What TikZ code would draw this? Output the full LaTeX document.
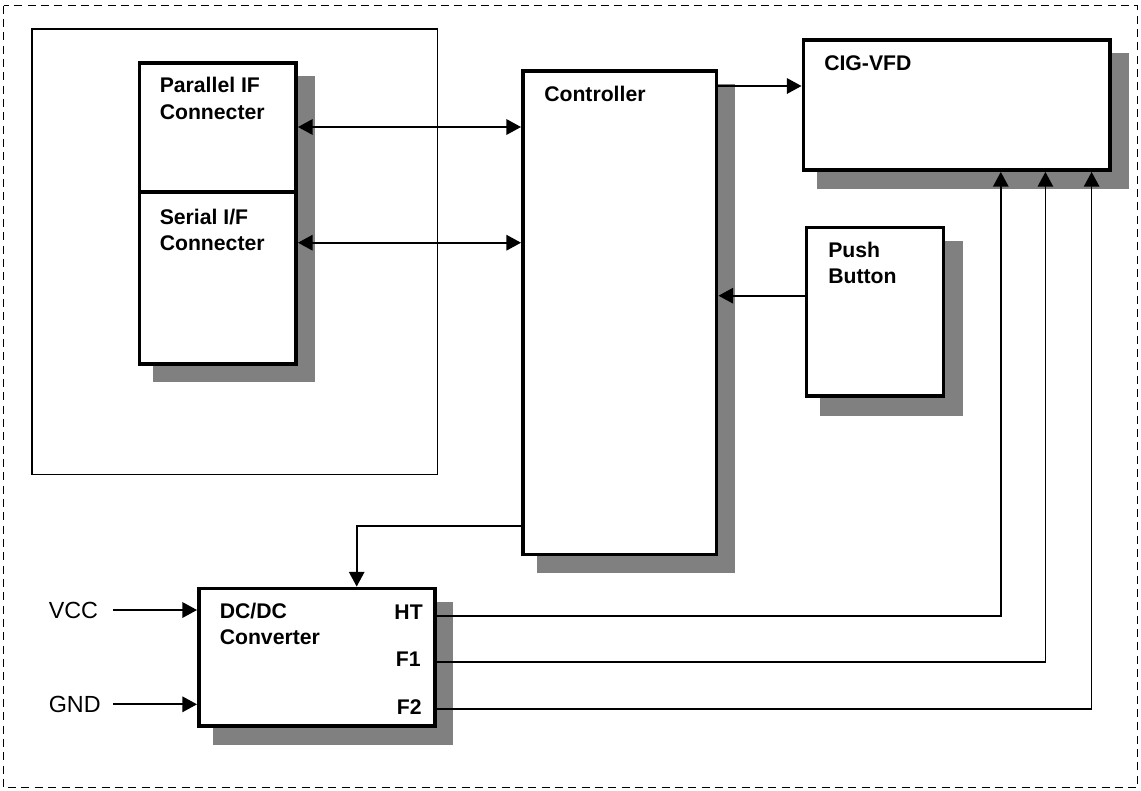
\documentclass[tikz,border=0pt]{standalone}
\usepackage{fontspec}
\setmainfont{Liberation Sans}
\usetikzlibrary{arrows.meta,fit}
\definecolor{shadowgray}{HTML}{808080}
\tikzset{
  box/.style={draw, line width=2.9pt, inner sep=0pt, fill=white},
  shadowbox/.style={fill=shadowgray},
  frame/.style={line width=1pt, dash pattern=on 6pt off 4pt},
  group/.style={line width=1.2pt},
  lbl/.style={font=\bfseries\fontsize{15.9}{18}\selectfont, inner sep=0pt, anchor=base west},
  lblr/.style={lbl, anchor=base east},
  pinlbl/.style={font=\fontsize{17.5}{20}\selectfont, inner sep=0pt, anchor=base west},
  tip/.tip={Triangle[length=11pt,width=11.5pt]},
  conn/.style={line width=1.6pt, -tip},
  biconn/.style={line width=1.6pt, tip-tip},
  feed/.style={line width=1.3pt, -tip},
}
\begin{document}
\begin{tikzpicture}[x=0.75pt,y=-0.75pt]
\useasboundingbox (0,0) rectangle (1141,790);
% outer dashed frame and grouping rectangle
\draw[frame] (3.5,5.5) rectangle (1137.5,787.5);
\draw[group] (32,29) rectangle (437.5,474.5);
% shadows
\fill[shadowbox] (153,76) rectangle (315,382);
\fill[shadowbox] (537,84) rectangle (735,573);
\fill[shadowbox] (817,53) rectangle (1129,189);
\fill[shadowbox] (820,241) rectangle (963,416);
\fill[shadowbox] (213,602) rectangle (453,745);
% boxes
\node[box, fit={(139.5,63) (296,192)}] (par) {};
\node[box, fit={(139.5,192) (296,364)}] (ser) {};
\node[box, fit={(523,71) (716.5,554.5)}] (ctrl) {};
\node[box, fit={(803.5,40) (1110,170)}] (vfd) {};
\node[box, fit={(806.5,227.5) (943.5,396)}] (push) {};
\node[box, fit={(199,588.5) (435,726)}] (dcdc) {};
% labels
\node[lbl] (tpar1) at (159.5,92.3) {Parallel IF};
\node[lbl] (tpar2) at (159.5,119) {Connecter};
\node[lbl] (tser1) at (159.5,224) {Serial I/F};
\node[lbl] (tser2) at (159.5,250) {Connecter};
\node[lbl] (tctrl) at (544,101) {Controller};
\node[lbl] (tvfd) at (824,70) {CIG-VFD};
\node[lbl] (tpush1) at (828,257) {Push};
\node[lbl] (tpush2) at (828,283) {Button};
\node[lbl] (tdc1) at (219.5,618) {DC/DC};
\node[lbl] (tdc2) at (219.5,644) {Converter};
\node[lblr] (tht) at (423,619) {HT};
\node[lblr] (tf1) at (421,666) {F1};
\node[lblr] (tf2) at (422,714) {F2};
\node[pinlbl] (tvcc) at (48.5,618.5) {VCC};
\node[pinlbl] (tgnd) at (48.5,712.5) {GND};
% helper coordinates
\coordinate (ypar) at (0,127);
\coordinate (yser) at (0,242.7);
\coordinate (yvfd) at (0,86);
\coordinate (ypush) at (0,295.7);
\coordinate (bendDC) at (356.7,525.7);
\coordinate (vccstart) at (113,610);
\coordinate (gndstart) at (113,704.3);
\coordinate (htcol) at (1000.8,615.7);
\coordinate (fonecol) at (1045.4,662.3);
\coordinate (ftwocol) at (1091.6,709.3);
% connectors
\draw[biconn] (par.east |- ypar) -- (ctrl.west |- ypar);
\draw[biconn] (ser.east |- yser) -- (ctrl.west |- yser);
\draw[conn] (ctrl.east |- yvfd) -- (vfd.west |- yvfd);
\draw[conn] (push.west |- ypush) -- (ctrl.east |- ypush);
\draw[feed] (ctrl.west |- bendDC) -- (bendDC) -- (bendDC |- dcdc.north);
\draw[conn] (vccstart) -- (dcdc.west |- vccstart);
\draw[conn] (gndstart) -- (dcdc.west |- gndstart);
\draw[feed] (dcdc.east |- htcol) -| (htcol |- vfd.south);
\draw[feed] (dcdc.east |- fonecol) -| (fonecol |- vfd.south);
\draw[feed] (dcdc.east |- ftwocol) -| (ftwocol |- vfd.south);
\end{tikzpicture}
\end{document}
